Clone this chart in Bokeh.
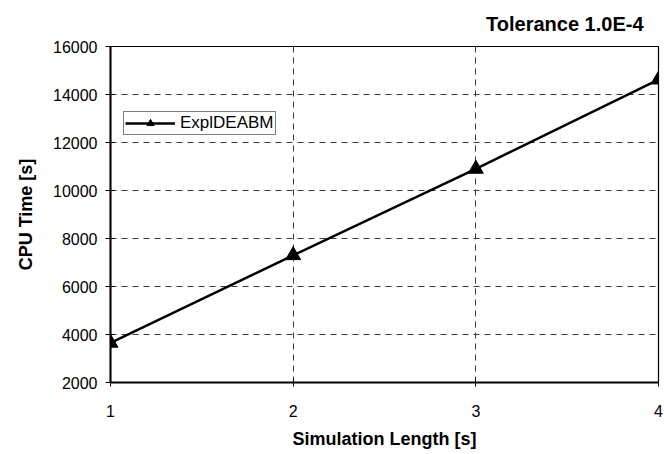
from bokeh.plotting import figure
from bokeh.models import ColumnDataSource, FixedTicker, Range1d, Legend, LegendItem, Title
from bokeh.embed import file_html
from bokeh.resources import INLINE

# Simulation length [s] vs. CPU time [s] at tolerance 1.0E-4
sim_length = [1, 2, 3, 4]
cpu_time = [3650, 7300, 10900, 14620]
series_name = "ExplDEABM"
chart_title = "Tolerance 1.0E-4"
x_ticks = [1, 2, 3, 4]
y_ticks = [2000, 4000, 6000, 8000, 10000, 12000, 14000, 16000]

FONT = "Liberation Sans"

src = ColumnDataSource(data=dict(x=sim_length, y=cpu_time))

p = figure(
    width=664, height=454,
    output_backend="svg", toolbar_location=None,
    x_range=Range1d(1, 4), y_range=Range1d(2000, 16000),
    min_border_left=110, min_border_right=6,
    min_border_top=46, min_border_bottom=72,
    background_fill_color="white", border_fill_color="white",
)

title = Title(text=chart_title, align="right", offset=15, standoff=20,
              vertical_align="top", text_line_height=0.5,
              text_font=FONT, text_font_size="20px", text_font_style="bold",
              text_color="black")
p.add_layout(title, "above")

p.outline_line_color = "black"
p.outline_line_width = 1.2

# dashed grid
for g in (p.xgrid, p.ygrid):
    g.grid_line_color = "#3a3a3a"
    g.grid_line_dash = "6 5"
    g.grid_line_width = 1

p.xaxis.ticker = FixedTicker(ticks=x_ticks)
p.yaxis.ticker = FixedTicker(ticks=y_ticks)

for ax in (p.xaxis[0], p.yaxis[0]):
    ax.axis_line_color = "black"
    ax.axis_line_width = 2
    ax.major_tick_line_color = "black"
    ax.major_tick_line_width = 1
    ax.minor_tick_line_color = None
    ax.major_label_text_font = FONT
    ax.major_label_text_font_size = "16px"
    ax.major_label_text_color = "black"
    ax.axis_label_text_font = FONT
    ax.axis_label_text_font_size = "18px"
    ax.axis_label_text_font_style = "bold"
    ax.axis_label_text_color = "black"

p.xaxis.axis_label = "Simulation Length [s]"
p.xaxis.major_tick_in = 4
p.xaxis.major_tick_out = 4
p.xaxis.major_label_standoff = 18
p.xaxis.axis_label_standoff = 9

p.yaxis.axis_label = "CPU Time [s]"
p.yaxis.major_tick_in = 4
p.yaxis.major_tick_out = 5
p.yaxis.major_label_standoff = 8
p.yaxis.axis_label_standoff = 14

line = p.line("x", "y", source=src, line_color="black", line_width=2.5)
pts = p.scatter("x", "y", source=src, marker="triangle", size=15,
                fill_color="black", line_color="black")

legend = Legend(
    items=[LegendItem(label=series_name, renderers=[line, pts])],
    location=(13, 247),
    orientation="vertical",
    border_line_color="black", border_line_width=1,
    background_fill_color="white", background_fill_alpha=1,
    padding=1, margin=0, spacing=0,
    glyph_width=50, glyph_height=18, label_height=18,
    label_standoff=5,
    label_text_font=FONT, label_text_font_size="17px", label_text_color="black",
)
p.add_layout(legend, "center")

open("out.html", "w").write(file_html(p, INLINE))
